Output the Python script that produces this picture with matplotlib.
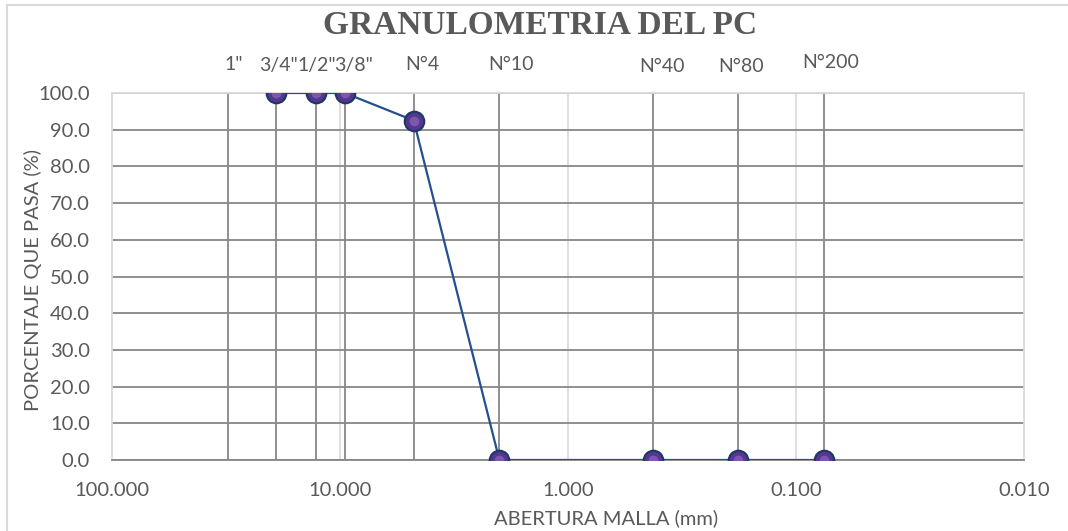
import matplotlib
matplotlib.use("Agg")
import matplotlib.pyplot as plt
from matplotlib.patches import Rectangle
from matplotlib.transforms import blended_transform_factory, offset_copy

# datos de la granulometria
abertura = [19.05, 12.7, 9.525, 4.75, 2.0, 0.425, 0.18, 0.075]
pasa = [100.0, 100.0, 100.0, 92.5, 0.0, 0.0, 0.0, 0.0]

# tamices (lineas verticales) y sus nombres
tamiz_abertura = [31.0, 19.05, 12.7, 9.525, 4.75, 2.0, 0.425, 0.18, 0.075]
tamiz_nombre = ['1"', '3/4"', '1/2"', '3/8"', 'N°4', 'N°10', 'N°40', 'N°80', 'N°200']

x_ticks = [100, 10, 1, 0.1, 0.01]
y_ticks = [0, 10, 20, 30, 40, 50, 60, 70, 80, 90, 100]

# desplazamiento de las etiquetas de tamiz (px)
etq_dx = [6, 2, 0, 9, 9, 12, 9, 3, 6]
etq_dy = [28, 28, 28, 28, 28, 28, 27, 27, 31]

gris = '#595959'
plt.rcParams['font.family'] = ['Lato', 'DejaVu Sans']

W, H = 1068, 531
fig = plt.figure(figsize=(W / 100, H / 100), dpi=100)
ax = fig.add_axes([112 / W, (H - 460) / H, (1024 - 112) / W, (460 - 93) / H])

ax.set_xscale('log')
ax.set_xlim(100, 0.01)
ax.set_ylim(0, 100)

# cuadricula
for v in x_ticks[1:-1]:
    ax.axvline(v, color='#d9d9d9', lw=1.2, zorder=1)
for v in y_ticks:
    ax.axhline(v, color='#878787', lw=1.3, zorder=1)
for v in tamiz_abertura:
    ax.axvline(v, color='#878787', lw=1.3, zorder=2)

ax.plot(abertura, pasa, color='#24508f', lw=1.6, marker='o', markersize=14,
        markerfacecolor='#573690', markeredgecolor='#1f3868', markeredgewidth=1.6,
        zorder=4)
ax.plot(abertura, pasa, ls='none', marker='o', markersize=7,
        markerfacecolor='#9270c6', markeredgecolor='none', alpha=0.6, zorder=5)

for spine in ['left', 'right', 'top']:
    ax.spines[spine].set_color('#d9d9d9')
ax.spines['bottom'].set_color('#878787')
for spine in ax.spines.values():
    spine.set_linewidth(1.3)

ax.set_xticks(x_ticks)
ax.set_xticklabels([f'{v:.3f}' for v in x_ticks])
ax.minorticks_off()
ax.set_yticks(y_ticks)
ax.set_yticklabels([f'{v:.1f}' for v in y_ticks])
ax.tick_params(axis='both', length=0, labelsize=14.5, colors=gris)
ax.tick_params(axis='x', pad=16)
ax.tick_params(axis='y', pad=16)

# etiquetas de tamices sobre el grafico
trans = blended_transform_factory(ax.transData, ax.transAxes)
for v, nombre, dx, dy in zip(tamiz_abertura, tamiz_nombre, etq_dx, etq_dy):
    t = offset_copy(trans, fig=fig, x=dx, y=dy, units='dots')
    ax.text(v, 1.0, nombre, transform=t, ha='center', va='center',
            fontsize=14, color=gris)

fig.text(540 / W, 1 - 26 / H, 'GRANULOMETRIA DEL PC', ha='center', va='center',
         fontsize=24, fontweight='bold', color=gris, family='Liberation Serif')
fig.text(606 / W, 1 - 518 / H, 'ABERTURA MALLA (mm)', ha='center', va='center',
         fontsize=14.5, color=gris)
fig.text(33 / W, 1 - 280 / H, 'PORCENTAJE QUE PASA (%)', ha='center', va='center',
         rotation=90, fontsize=14.5, color=gris)

fig.patches.append(Rectangle((7 / W, -0.05), 1.1, 1.05 - 5 / H, transform=fig.transFigure,
                             fill=False, edgecolor='#d9d9d9', lw=1.5))

fig.savefig('out.png', dpi=100)
